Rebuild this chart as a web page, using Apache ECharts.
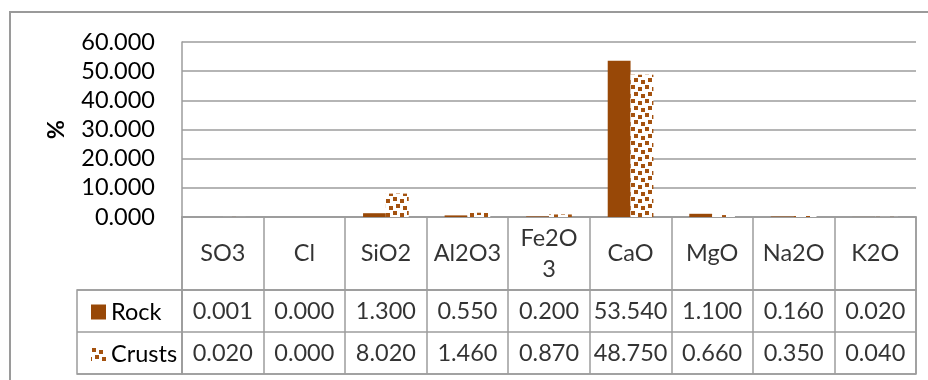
<!DOCTYPE html>
<html>
<head>
<meta charset="utf-8">
<script src="https://cdn.jsdelivr.net/npm/echarts@6/dist/echarts.min.js"></script>
<style>
  html, body { margin: 0; padding: 0; background: #fff; }
  #chart { width: 928px; height: 380px; }
</style>
</head>
<body>
<div id="chart"></div>
<script>
// Oxide composition of rock and crusts (%)
const categories = ['SO3', 'Cl', 'SiO2', 'Al2O3', 'Fe2O3', 'CaO', 'MgO', 'Na2O', 'K2O'];
const rock = [0.001, 0.000, 1.300, 0.550, 0.200, 53.540, 1.100, 0.160, 0.020];
const crusts = [0.020, 0.000, 8.020, 1.460, 0.870, 48.750, 0.660, 0.350, 0.040];
const seriesNames = ['Rock', 'Crusts'];
const yTicks = { min: 0, max: 60, step: 10 };

const FONT = 'Lato';
const FONT_SIZE = 23.5;
const GRID_COLOR = '#9c9c9c';
const ROCK_COLOR = '#984807';
const DOT_COLOR = '#a4520f';

// Confetti fill used for the crusts bars
function confettiPattern() {
  const S = 14;
  const c = document.createElement('canvas');
  c.width = S; c.height = S;
  const g = c.getContext('2d');
  g.fillStyle = '#ffffff';
  g.fillRect(0, 0, S, S);
  g.fillStyle = DOT_COLOR;
  const spots = [[1, 1], [8, 3], [4, 8], [11, 10]];
  spots.forEach(([x, y]) => {
    g.fillRect(x, y, 4, 4);
    if (x + 4 > S) g.fillRect(x - S, y, 4, 4);
    if (y + 4 > S) g.fillRect(x, y - S, 4, 4);
  });
  return { image: c, repeat: 'repeat' };
}
const crustsFill = confettiPattern();

const fmt = v => v.toFixed(3);
const cellText = { fontFamily: FONT, fontSize: FONT_SIZE, color: '#000' };

const chart = echarts.init(document.getElementById('chart'), null, { renderer: 'canvas' });

chart.setOption({
  animation: false,
  backgroundColor: '#fff',
  grid: [
    { left: 182, top: 42, width: 734, height: 175 },                                            // bars
    { left: 182, top: 217, width: 734, height: 73, show: true, borderColor: GRID_COLOR, borderWidth: 1.5 },  // header row
    { left: 182, top: 290, width: 734, height: 84, show: true, borderColor: GRID_COLOR, borderWidth: 1.5 },  // value rows
    { left: 77, top: 290, width: 105, height: 84, show: true, borderColor: GRID_COLOR, borderWidth: 1.5 }     // legend cells
  ],
  xAxis: [
    { type: 'category', gridIndex: 0, data: categories,
      axisLine: { show: true, lineStyle: { color: GRID_COLOR, width: 1.5 } },
      axisTick: { show: false }, axisLabel: { show: false } },
    { type: 'category', gridIndex: 1, data: categories,
      axisLine: { show: false }, axisTick: { show: false }, axisLabel: { show: false },
      splitLine: { show: true, lineStyle: { color: GRID_COLOR, width: 1.5 } } },
    { type: 'category', gridIndex: 2, data: categories,
      axisLine: { show: false }, axisTick: { show: false }, axisLabel: { show: false },
      splitLine: { show: true, lineStyle: { color: GRID_COLOR, width: 1.5 } } },
    { type: 'value', gridIndex: 3, min: 0, max: 1, show: false }
  ],
  yAxis: [
    { type: 'value', gridIndex: 0, min: yTicks.min, max: yTicks.max, interval: yTicks.step,
      name: '%', nameLocation: 'middle', nameRotate: 90, nameGap: 114,
      nameTextStyle: { fontFamily: FONT, fontSize: FONT_SIZE, fontWeight: 'bold', color: '#000' },
      axisLine: { show: true, lineStyle: { color: GRID_COLOR, width: 1.5 } },
      axisTick: { show: false },
      axisLabel: { formatter: fmt, margin: 27, fontFamily: FONT, fontSize: FONT_SIZE, color: '#000' },
      splitLine: { show: true, lineStyle: { color: GRID_COLOR, width: 1.5 } } },
    { type: 'value', gridIndex: 1, min: 0, max: 1, show: false },
    { type: 'value', gridIndex: 2, min: 0, max: 2, interval: 1,
      axisLine: { show: false }, axisTick: { show: false }, axisLabel: { show: false },
      splitLine: { show: true, lineStyle: { color: GRID_COLOR, width: 1.5 } } },
    { type: 'value', gridIndex: 3, min: 0, max: 2, interval: 1,
      axisLine: { show: false }, axisTick: { show: false }, axisLabel: { show: false },
      splitLine: { show: true, lineStyle: { color: GRID_COLOR, width: 1.5 } } }
  ],
  legend: {
    data: seriesNames,
    orient: 'vertical',
    left: 86, top: 295,
    itemWidth: 15, itemHeight: 15, itemGap: 18.5,
    itemStyle: { borderWidth: 0 },
    icon: 'rect',
    selectedMode: false,
    textStyle: { fontFamily: FONT, fontSize: FONT_SIZE, lineHeight: 23.5, color: '#000' }
  },
  graphic: [
    { type: 'rect', silent: true, z: -1,
      shape: { x: 10, y: 12, width: 960, height: 420 },
      style: { fill: null, stroke: '#9a9a9a', lineWidth: 2 } }
  ],
  series: [
    { name: seriesNames[0], type: 'bar', xAxisIndex: 0, yAxisIndex: 0, data: rock,
      barCategoryGap: '44%', barGap: '0%',
      itemStyle: { color: ROCK_COLOR } },
    { name: seriesNames[1], type: 'bar', xAxisIndex: 0, yAxisIndex: 0, data: crusts,
      barCategoryGap: '44%', barGap: '0%',
      itemStyle: { color: crustsFill } },
    // header cells
    { name: 'header', type: 'scatter', xAxisIndex: 1, yAxisIndex: 1,
      symbolSize: 1, itemStyle: { color: 'rgba(0,0,0,0)' }, silent: true,
      data: categories.map((c, i) => [i, 0.5]),
      label: { show: true, position: 'inside', ...cellText, lineHeight: 31,
        width: 70, overflow: 'breakAll', align: 'center',
        formatter: p => categories[p.data[0]] } },
    // value cells
    { name: 'rockValues', type: 'scatter', xAxisIndex: 2, yAxisIndex: 2,
      symbolSize: 1, itemStyle: { color: 'rgba(0,0,0,0)' }, silent: true,
      data: rock.map((v, i) => [i, 1.5, v]),
      label: { show: true, position: 'inside', ...cellText, formatter: p => fmt(p.data[2]) } },
    { name: 'crustsValues', type: 'scatter', xAxisIndex: 2, yAxisIndex: 2,
      symbolSize: 1, itemStyle: { color: 'rgba(0,0,0,0)' }, silent: true,
      data: crusts.map((v, i) => [i, 0.5, v]),
      label: { show: true, position: 'inside', ...cellText, formatter: p => fmt(p.data[2]) } }
  ]
});
</script>
</body>
</html>
